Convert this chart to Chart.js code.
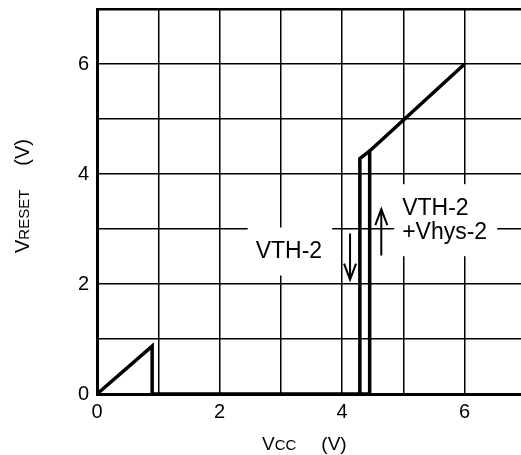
<!DOCTYPE html>
<html>
<head>
<meta charset="utf-8">
<script src="https://cdn.jsdelivr.net/npm/chart.js@4"></script>
<style>
  html, body { margin: 0; padding: 0; background: #fff; overflow: hidden; }
  #chart { display: block; }
</style>
</head>
<body>
<canvas id="chart" width="521" height="455"></canvas>
<script>
// axis ranges and tick labels
const xRange = [0, 6.92];
const yRange = [0, 7];
const xTickLabels = [0, 2, 4, 6];
const yTickLabels = [0, 2, 4, 6];

// VRESET curve pieces (Vcc, Vreset)
const lowX = [0, 0.9, 0.9, 4.45];
const lowY = [0, 0.87, 0, 0];
const fallX = [4.29, 4.29, 4.45];
const fallY = [0, 4.28, 4.42];
const riseX = [4.45, 4.45, 6];
const riseY = [0, 4.42, 6];

// arrows: x position, start y, tip y
const arrowX = [4.13, 4.64];
const arrowFrom = [2.92, 2.52];
const arrowTo = [2.08, 3.36];

// annotation text
const noteLines = [["VTH-2"], ["VTH-2", "+Vhys-2"]];
const noteX = [2.59, 4.98];
const noteY = [2.59, 3.16];

const FONT = "'Liberation Sans', Arial, sans-serif";

function toPoints(xs, ys) {
    return xs.map((x, i) => ({ x: x, y: ys[i] }));
}

function curve(xs, ys) {
    return {
        data: toPoints(xs, ys),
        showLine: true,
        borderColor: '#000',
        borderWidth: 3.5,
        pointRadius: 0,
        borderJoinStyle: 'miter',
        borderCapStyle: 'butt',
        tension: 0
    };
}

// notes + arrows + axis titles drawn on top
const extras = {
    id: 'extras',
    beforeDatasetsDraw(chart) {
        const ctx = chart.ctx;
        const xs = chart.scales.x, ys = chart.scales.y;
        ctx.save();
        ctx.font = '23px ' + FONT;
        ctx.textBaseline = 'middle';
        noteLines.forEach((lines, i) => {
            const left = xs.getPixelForValue(noteX[i]);
            const cy = ys.getPixelForValue(noteY[i]);
            const lh = 24;
            const w = Math.max(...lines.map(t => ctx.measureText(t).width));
            const h = lines.length * lh;
            ctx.fillStyle = '#fff';
            ctx.fillRect(left - 8, cy - h / 2 - 12, w + 18, h + 24);
            ctx.fillStyle = '#000';
            lines.forEach((t, j) => {
                ctx.fillText(t, left, cy - h / 2 + lh * (j + 0.5));
            });
        });
        ctx.restore();
    },
    afterDatasetsDraw(chart) {
        const ctx = chart.ctx;
        const xs = chart.scales.x, ys = chart.scales.y;
        ctx.save();
        ctx.strokeStyle = '#000';
        ctx.lineWidth = 2;
        arrowX.forEach((ax, i) => {
            const px = xs.getPixelForValue(ax);
            const y0 = ys.getPixelForValue(arrowFrom[i]);
            const y1 = ys.getPixelForValue(arrowTo[i]);
            const dir = y1 > y0 ? 1 : -1;
            ctx.beginPath();
            ctx.moveTo(px, y0);
            ctx.lineTo(px, y1);
            ctx.moveTo(px - 6, y1 - dir * 16);
            ctx.lineTo(px, y1);
            ctx.lineTo(px + 6, y1 - dir * 16);
            ctx.stroke();
        });
        ctx.restore();
    },
    afterDraw(chart) {
        const ctx = chart.ctx;
        ctx.save();
        ctx.fillStyle = '#000';
        ctx.textBaseline = 'alphabetic';
        // y title, reads bottom to top
        ctx.translate(29, 253);
        ctx.rotate(-Math.PI / 2);
        let x = 0;
        ctx.font = '20px ' + FONT;
        ctx.fillText('V', x, 0); x += ctx.measureText('V').width;
        ctx.font = '15px ' + FONT;
        ctx.fillText('RESET', x, 0); x += ctx.measureText('RESET').width + 24;
        ctx.font = '20px ' + FONT;
        ctx.fillText('(V)', x, 0);
        ctx.setTransform(1, 0, 0, 1, 0, 0);
        // x title
        x = 262;
        ctx.font = '19px ' + FONT;
        ctx.fillText('V', x, 450); x += ctx.measureText('V').width;
        ctx.font = '15px ' + FONT;
        ctx.fillText('CC', x, 450); x += ctx.measureText('CC').width + 25;
        ctx.font = '19px ' + FONT;
        ctx.fillText('(V)', x, 450);
        ctx.restore();
    }
};

function integerTicks(lo, hi) {
    const t = [];
    for (let v = Math.ceil(lo); v <= Math.floor(hi); v++) t.push({ value: v });
    return t;
}

new Chart(document.getElementById('chart'), {
    type: 'scatter',
    data: {
        datasets: [curve(lowX, lowY), curve(fallX, fallY), curve(riseX, riseY)]
    },
    options: {
        responsive: false,
        animation: false,
        devicePixelRatio: 1,
        layout: { padding: { top: 9, right: 0, left: 0, bottom: 0 } },
        plugins: { legend: { display: false }, tooltip: { enabled: false } },
        scales: {
            x: {
                type: 'linear',
                min: xRange[0],
                max: xRange[1],
                afterBuildTicks: s => { s.ticks = integerTicks(xRange[0], xRange[1]); },
                afterFit: s => { s.height = 61; },
                grid: { color: '#000', lineWidth: 1.5, drawTicks: false },
                border: { color: '#000', width: 3 },
                ticks: {
                    color: '#000',
                    font: { family: FONT, size: 20 },
                    padding: 6,
                    maxRotation: 0,
                    autoSkip: false,
                    callback: v => xTickLabels.includes(v) ? String(v) : ''
                }
            },
            y: {
                type: 'linear',
                min: yRange[0],
                max: yRange[1],
                afterBuildTicks: s => { s.ticks = integerTicks(yRange[0], yRange[1]); },
                afterFit: s => { s.width = 97; s.paddingTop = 0; s.paddingBottom = 0; },
                grid: {
                    color: '#000',
                    lineWidth: c => (c.tick && c.tick.value === yRange[1]) ? 2.5 : 1.5,
                    drawTicks: false
                },
                border: { color: '#000', width: 3 },
                ticks: {
                    color: '#000',
                    font: { family: FONT, size: 20 },
                    padding: 8,
                    autoSkip: false,
                    callback: v => yTickLabels.includes(v) ? String(v) : ''
                }
            }
        }
    },
    plugins: [extras]
});
</script>
</body>
</html>
